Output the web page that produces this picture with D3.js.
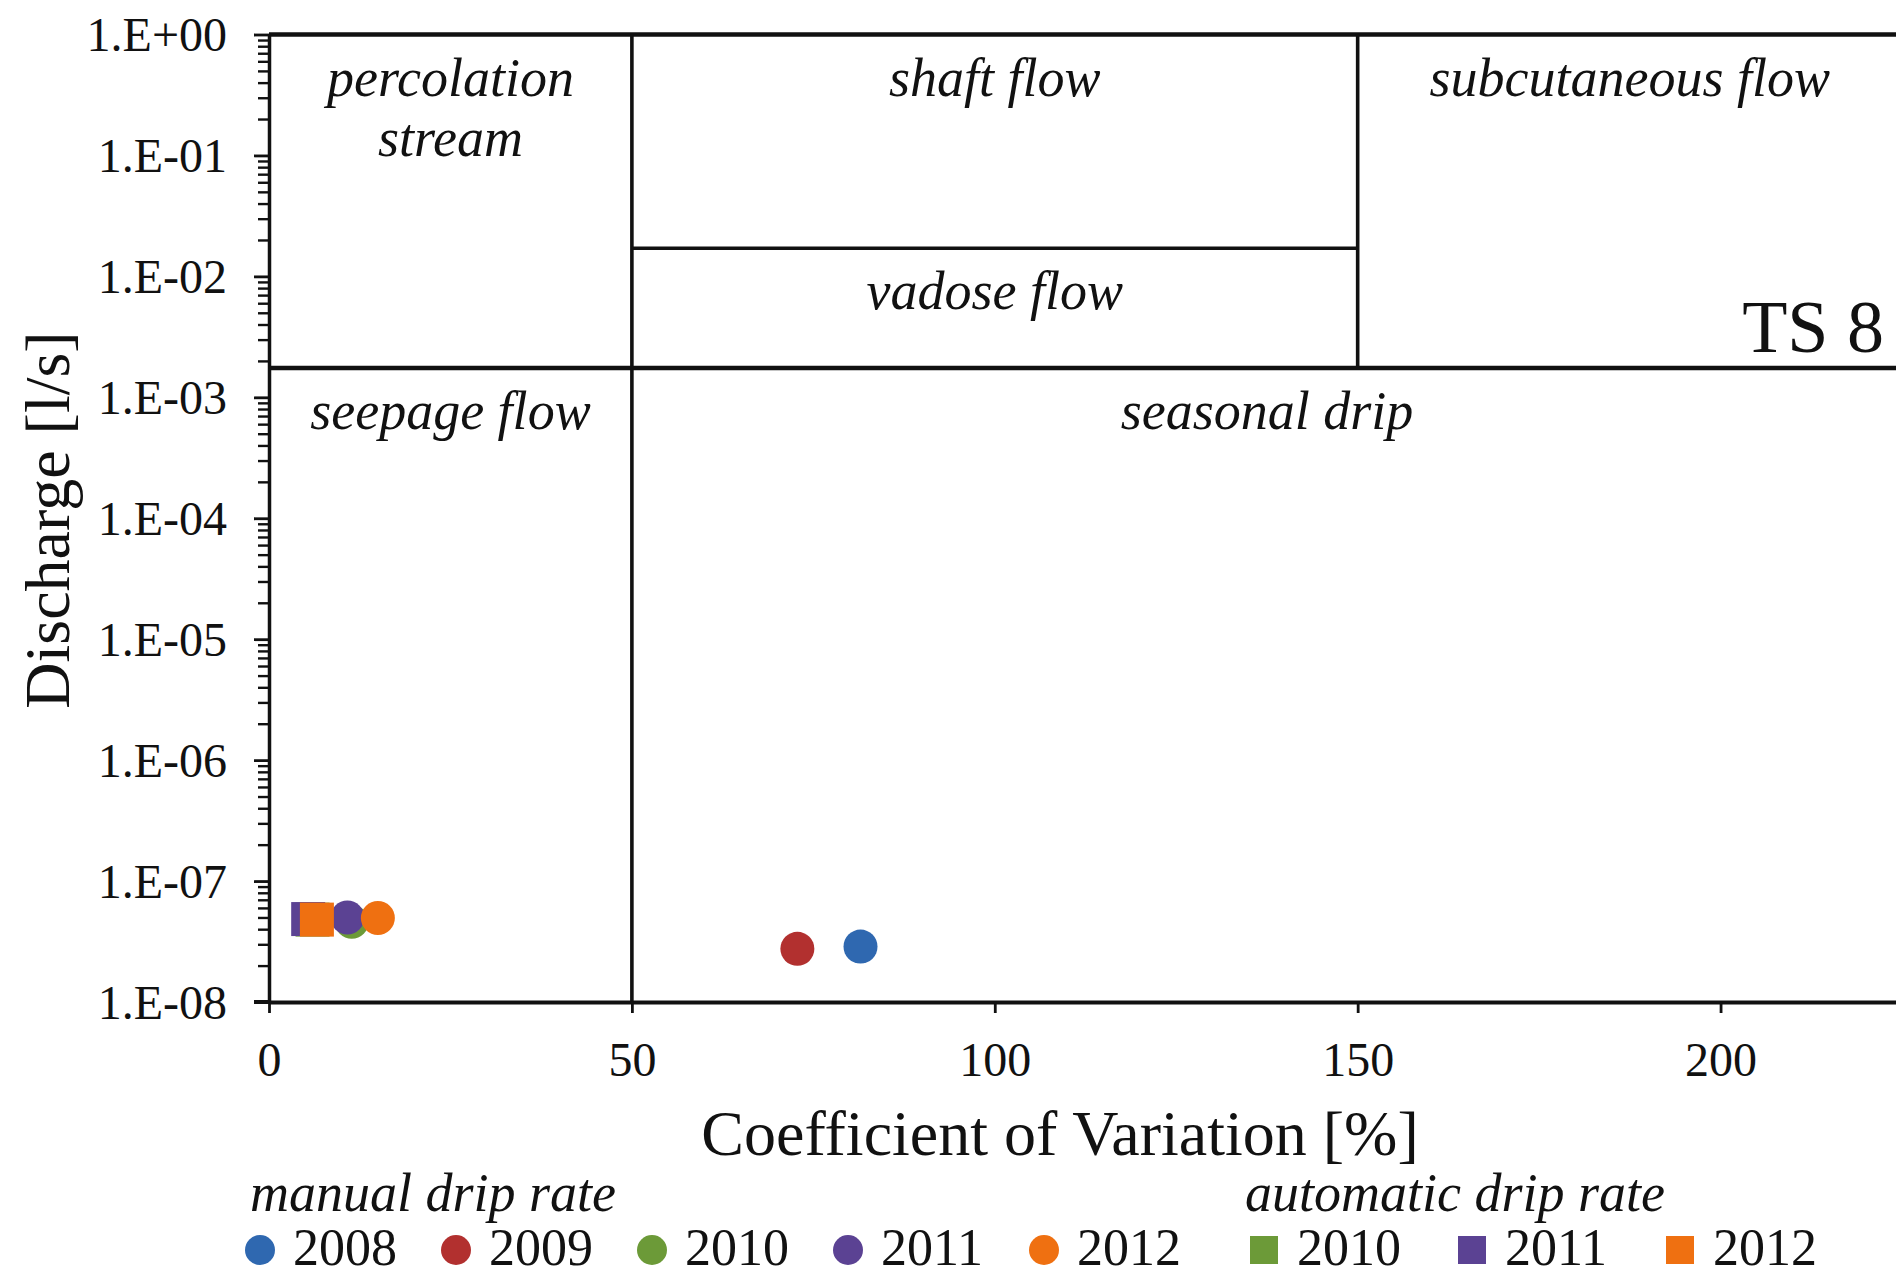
<!DOCTYPE html>
<html>
<head>
<meta charset="utf-8">
<script src="https://cdn.jsdelivr.net/npm/d3@7"></script>
<style>
  html, body { margin: 0; padding: 0; background: #ffffff; }
  svg { display: block; }
  text { font-family: "Liberation Serif", "Times New Roman", serif; fill: #111; }
</style>
</head>
<body>
<svg id="chart" width="1896" height="1278"></svg>
<script>
// ---- data ----
const xTicks = [0, 50, 100, 150, 200];
const yDecades = [1e0, 1e-1, 1e-2, 1e-3, 1e-4, 1e-5, 1e-6, 1e-7, 1e-8];

// manual drip rate (circles): coefficient of variation [%], discharge [l/s]
const manualYears = ["2008", "2009", "2010", "2011", "2012"];
const manualCV = [81.5, 72.8, 11.4, 10.8, 15.0];
const manualQ = [2.87e-8, 2.75e-8, 4.6e-8, 5.0e-8, 4.95e-8];

// automatic drip rate (squares)
const autoYears = ["2010", "2011", "2012"];
const autoCV = [6.0, 5.4, 6.6];
const autoQ = [4.8e-8, 4.85e-8, 4.8e-8];

const yearColors = { "2008": "#2f68b0", "2009": "#b2302f", "2010": "#6c9a38", "2011": "#5b4293", "2012": "#ef7011" };

// flow classification thresholds
const cvLimits = [50, 150];
const qLimitLow = 1.75e-3;
const qLimitHigh = 1.71e-2;

// classification fields and their labels
const fields = [
  { lines: ["percolation", "stream"], cv: [0, 50], qTop: 1 },
  { lines: ["shaft flow"], cv: [50, 150], qTop: 1 },
  { lines: ["subcutaneous flow"], cv: [150, 225], qTop: 1 },
  { lines: ["vadose flow"], cv: [50, 150], qTop: qLimitHigh },
  { lines: ["seepage flow"], cv: [0, 50], qTop: qLimitLow },
  { lines: ["seasonal drip"], cv: [50, 225], qTop: qLimitLow }
];

// ---- scales ----
const svg = d3.select("#chart");
const x = d3.scaleLinear().domain([0, 225]).range([269, 1902]);
const y = d3.scaleLog().domain([1e-8, 1]).range([1002, 34.5]);

const lineColor = "#111";

// ---- y axis: major decades + minor ticks ----
const yMinor = [];
for (let e = -8; e < 0; e++) {
  for (let m = 2; m <= 9; m++) yMinor.push(m * Math.pow(10, e));
}
const fmtExp = d => {
  const e = Math.round(Math.log10(d));
  const s = e < 0 ? "-" : "+";
  return "1.E" + s + String(Math.abs(e)).padStart(2, "0");
};

svg.append("g")
  .attr("transform", `translate(${x(0)},0)`)
  .call(d3.axisLeft(y).tickValues(yMinor).tickSize(11).tickSizeOuter(0).tickFormat(""))
  .call(g => g.select(".domain").remove())
  .call(g => g.selectAll("line").attr("stroke", lineColor).attr("stroke-width", 2.4));

svg.append("g")
  .attr("transform", `translate(${x(0)},0)`)
  .call(d3.axisLeft(y).tickValues(yDecades).tickSize(15).tickSizeOuter(0).tickPadding(27).tickFormat(fmtExp))
  .call(g => g.select(".domain").attr("stroke", lineColor).attr("stroke-width", 3.5))
  .call(g => g.selectAll("line").attr("stroke", lineColor).attr("stroke-width", 2.8))
  .call(g => g.selectAll("text")
    .attr("font-size", 48).attr("fill", "#111").attr("dy", "0.34em"));

// ---- x axis ----
svg.append("g")
  .attr("transform", `translate(0,${y(1e-8)})`)
  .call(d3.axisBottom(x).tickValues(xTicks).tickSize(11).tickSizeOuter(0).tickPadding(29).tickFormat(d3.format("d")))
  .call(g => g.select(".domain").attr("stroke", lineColor).attr("stroke-width", 4))
  .call(g => g.selectAll("line").attr("stroke", lineColor).attr("stroke-width", 2.8))
  .call(g => g.selectAll("text")
    .attr("font-size", 48).attr("fill", "#111"));

// extend bottom axis line out to the end of the major y tick
svg.append("line")
  .attr("x1", x(0) - 15).attr("x2", x(0))
  .attr("y1", y(1e-8)).attr("y2", y(1e-8))
  .attr("stroke", lineColor).attr("stroke-width", 4);

// ---- classification boundaries ----
const bounds = svg.append("g").attr("stroke", lineColor).attr("fill", "none");
// top frame
bounds.append("line")
  .attr("x1", x(0)).attr("x2", x(225)).attr("y1", y(1)).attr("y2", y(1))
  .attr("stroke-width", 4.5);
// CV = 50 from bottom to top
bounds.append("line")
  .attr("x1", x(cvLimits[0])).attr("x2", x(cvLimits[0]))
  .attr("y1", y(1e-8)).attr("y2", y(1))
  .attr("stroke-width", 3.6);
// CV = 150 above the low discharge limit
bounds.append("line")
  .attr("x1", x(cvLimits[1])).attr("x2", x(cvLimits[1]))
  .attr("y1", y(qLimitLow)).attr("y2", y(1))
  .attr("stroke-width", 3.6);
// low discharge limit across the whole plot
bounds.append("line")
  .attr("x1", x(0)).attr("x2", x(225)).attr("y1", y(qLimitLow)).attr("y2", y(qLimitLow))
  .attr("stroke-width", 4.5);
// shaft / vadose split
bounds.append("line")
  .attr("x1", x(cvLimits[0])).attr("x2", x(cvLimits[1]))
  .attr("y1", y(qLimitHigh)).attr("y2", y(qLimitHigh))
  .attr("stroke-width", 3.6);

// ---- field labels ----
fields.forEach(f => {
  const cx = x((f.cv[0] + f.cv[1]) / 2);
  const top = y(f.qTop);
  const t = svg.append("text")
    .attr("x", cx)
    .attr("text-anchor", "middle")
    .attr("font-style", "italic")
    .attr("font-size", 54);
  f.lines.forEach((ln, i) => {
    t.append("tspan").attr("x", cx).attr("y", top + 61 + i * 60).text(ln);
  });
});

svg.append("text")
  .attr("x", 1884).attr("y", y(qLimitLow) - 16)
  .attr("text-anchor", "end")
  .attr("font-size", 74)
  .text("TS 8");

// ---- markers ----
const manual = manualYears.map((yr, i) => ({ year: yr, cv: manualCV[i], q: manualQ[i] }));
const auto = autoYears.map((yr, i) => ({ year: yr, cv: autoCV[i], q: autoQ[i] }));

svg.append("g").selectAll("circle")
  .data(manual).join("circle")
  .attr("cx", d => x(d.cv)).attr("cy", d => y(d.q)).attr("r", 17)
  .attr("fill", d => yearColors[d.year]);

const sq = 34;
svg.append("g").selectAll("rect")
  .data(auto).join("rect")
  .attr("x", d => x(d.cv) - sq / 2).attr("y", d => y(d.q) - sq / 2)
  .attr("width", sq).attr("height", sq)
  .attr("fill", d => yearColors[d.year]);

// ---- axis titles ----
svg.append("text")
  .attr("x", 1060).attr("y", 1155)
  .attr("text-anchor", "middle")
  .attr("font-size", 64)
  .text("Coefficient of Variation [%]");

svg.append("text")
  .attr("transform", "translate(69,520) rotate(-90)")
  .attr("text-anchor", "middle")
  .attr("font-size", 64)
  .text("Discharge [l/s]");

// ---- legend ----
const legend = svg.append("g");
legend.append("text")
  .attr("x", 250).attr("y", 1211)
  .attr("font-style", "italic").attr("font-size", 54)
  .text("manual drip rate");
legend.append("text")
  .attr("x", 1245).attr("y", 1211)
  .attr("font-style", "italic").attr("font-size", 54)
  .text("automatic drip rate");

const manualItems = legend.selectAll("g.m")
  .data(manualYears).join("g").attr("class", "m")
  .attr("transform", (d, i) => `translate(${260 + i * 196},1250)`);
manualItems.append("circle").attr("r", 15).attr("fill", d => yearColors[d]);
manualItems.append("text").attr("x", 33).attr("y", 15).attr("font-size", 52).text(d => d);

const autoItems = legend.selectAll("g.a")
  .data(autoYears).join("g").attr("class", "a")
  .attr("transform", (d, i) => `translate(${1264 + i * 208},1250)`);
autoItems.append("rect").attr("x", -14).attr("y", -14).attr("width", 28).attr("height", 28)
  .attr("fill", d => yearColors[d]);
autoItems.append("text").attr("x", 33).attr("y", 15).attr("font-size", 52).text(d => d);
</script>
</body>
</html>
